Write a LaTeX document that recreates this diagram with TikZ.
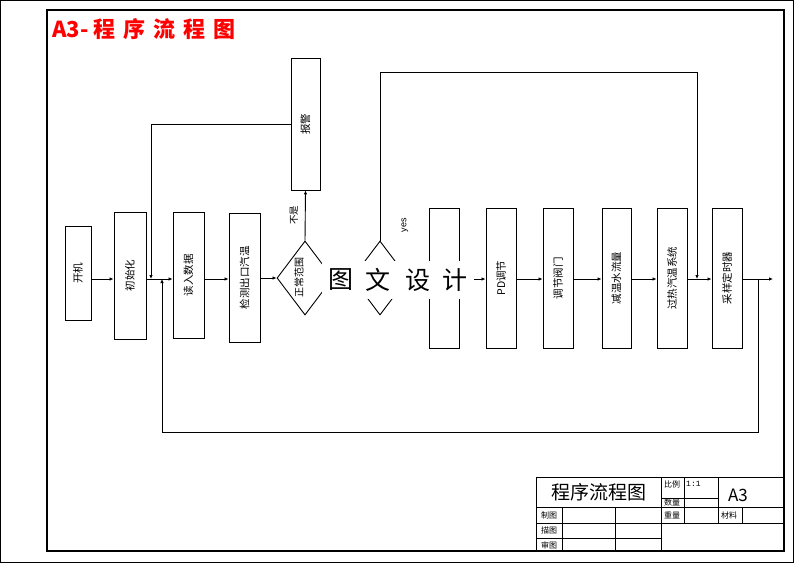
\documentclass[tikz,border=0pt]{standalone}
\usepackage{fontspec}
\setmainfont{Noto Sans CJK SC}
\newfontfamily\latinsans{Liberation Sans}
\newfontfamily\latinmono{Liberation Mono}
\usetikzlibrary{shapes.geometric,arrows.meta}
\begin{document}
\begin{tikzpicture}[x=1pt,y=-1pt,
  flowbox/.style={draw,line width=0.9pt,inner sep=0pt,font=\fontsize{10.5}{11}\selectfont},
  decide/.style={draw,line width=0.9pt,diamond,inner sep=0pt,minimum width=56pt,minimum height=74pt},
  conn/.style={line width=0.9pt},
  arr/.style={conn,-{Latex[length=4pt,width=3.5pt]}},
  frameline/.style={line width=0.8pt},
  tbtext/.style={font=\fontsize{8}{9}\selectfont,inner sep=0pt}]
\useasboundingbox (0,0) rectangle (794,563);
% frames
\draw[line width=0.8pt] (0.5,0.5) rectangle (793.5,562.5);
\draw[line width=2.2pt] (47,10) rectangle (784,551);
% title
\node[anchor=west,text=red,inner sep=0pt,font=\fontsize{22}{24}\selectfont\bfseries] (title) at (52,29) {A3-\hspace{5pt}程\hspace{8pt}序\hspace{8pt}流\hspace{8pt}程\hspace{8pt}图};
% main line reference
\coordinate (ml) at (0,279);
% boxes
\node[flowbox,minimum width=26pt,minimum height=94pt] (kj) at (78,273) {\rotatebox{90}{开机}};
\node[flowbox,minimum width=32pt,minimum height=127pt] (csh) at (130,275.5) {\rotatebox{90}{初始化}};
\node[flowbox,minimum width=31pt,minimum height=126pt] (drsj) at (188.5,275) {\rotatebox{90}{读入数据}};
\node[flowbox,minimum width=31pt,minimum height=129pt] (jc) at (244.5,277.5) {\rotatebox{90}{检测出口汽温}};
\node[flowbox,minimum width=29pt,minimum height=132pt] (bj) at (305.5,124) {\rotatebox{90}{报警}};
\node[decide] (d1) at (305,278) {};
\node[decide] (d2) at (380,278) {};
\node[inner sep=0pt,font=\fontsize{10}{11}\selectfont] (d1t) at (299,277) {\rotatebox{90}{正常范围}};
\node[flowbox,minimum width=30pt,minimum height=140pt] (ba) at (444,278) {};
\node[flowbox,minimum width=30pt,minimum height=140pt] (pid) at (501,278) {\rotatebox{90}{PD调节}};
\node[flowbox,minimum width=30pt,minimum height=140pt] (tjfm) at (558,278) {\rotatebox{90}{调节阀门}};
\node[flowbox,minimum width=29pt,minimum height=140pt] (jwsl) at (616.5,278) {\rotatebox{90}{减温水流量}};
\node[flowbox,minimum width=30pt,minimum height=140pt] (grqw) at (672,278) {\rotatebox{90}{过热汽温系统}};
\node[flowbox,minimum width=30pt,minimum height=140pt] (cyds) at (727,278) {\rotatebox{90}{采样定时器}};
% labels
\node[inner sep=0pt,font=\fontsize{9.5}{10}\selectfont] (nolab) at (294,215) {\rotatebox{90}{不是}};
\node[inner sep=0pt,font=\latinsans\fontsize{9}{10}\selectfont] (yeslab) at (405,225) {\rotatebox{90}{yes}};
% junction coordinates
\coordinate (j1) at (151,279);
\coordinate (j2) at (697,279);
\coordinate (tp) at (697,72);
\coordinate (j3) at (758,279);
\coordinate (bt) at (758,432);
\coordinate (j4) at (162,279);
\coordinate (out) at (773,279);
% connectors
\draw[arr] (kj.east |- ml) -- (csh.west |- ml);
\draw[arr] (csh.east |- ml) -- (drsj.west |- ml);
\draw[arr] (drsj.east |- ml) -- (jc.west |- ml);
\draw[arr] (jc.east |- d1.west) -- (d1.west);
\draw[arr] (d1.east) -- (d2.west);
\draw[arr] (d2.east) -- (ba.west |- d2.east);
\draw[arr] (ba.east |- ml) -- (pid.west |- ml);
\draw[arr] (pid.east |- ml) -- (tjfm.west |- ml);
\draw[arr] (tjfm.east |- ml) -- (jwsl.west |- ml);
\draw[arr] (jwsl.east |- ml) -- (grqw.west |- ml);
\draw[arr] (grqw.east |- ml) -- (cyds.west |- ml);
\draw[arr] (cyds.east |- ml) -- (out);
\draw[arr] (d1.north) -- (bj.south);
\draw[arr] (bj.west) -| (j1);
\draw[arr] (d2.north) |- (tp) -- (j2);
\draw[arr] (j3) -- (bt) -| (j4);
% watermark
\fill[white] (322,261) rectangle (474,299);
\foreach \cx/\ch [count=\i] in {341/图,378/文,418/设,455/计}
  \node[inner sep=0pt,font=\fontsize{25}{26}\selectfont] (wm\i) at (\cx,280) {\ch};
% title block
\draw[frameline] (536,477) rectangle (784,551);
\draw[frameline] (536,507) -- (784,507);
\draw[frameline] (536,523) -- (784,523);
\draw[frameline] (536,538) -- (661,538);
\draw[frameline] (661,498) -- (718,498);
\draw[frameline] (562,507) -- (562,551);
\draw[frameline] (615,507) -- (615,551);
\draw[frameline] (661,477) -- (661,551);
\draw[frameline] (684,477) -- (684,523);
\draw[frameline] (718,477) -- (718,523);
\draw[frameline] (742,507) -- (742,523);
\node[inner sep=0pt,font=\fontsize{19}{20}\selectfont] (tbtitle) at (598.5,492) {程序流程图};
\node[inner sep=0pt,font=\fontsize{17}{18}\selectfont] (tba3) at (738,495) {A3};
\node[tbtext] (tb1) at (672,484) {比例};
\node[tbtext,font=\latinmono\fontsize{8}{9}\selectfont,anchor=west] (tb2) at (686,484) {1:1};
\node[tbtext] (tb3) at (672,502.5) {数量};
\node[tbtext] (tb4) at (672,515) {重量};
\node[tbtext] (tb5) at (729,515) {材料};
\node[tbtext] (tb6) at (549,515) {制图};
\node[tbtext] (tb7) at (549,530.5) {描图};
\node[tbtext] (tb8) at (549,545) {审图};
\end{tikzpicture}
\end{document}
